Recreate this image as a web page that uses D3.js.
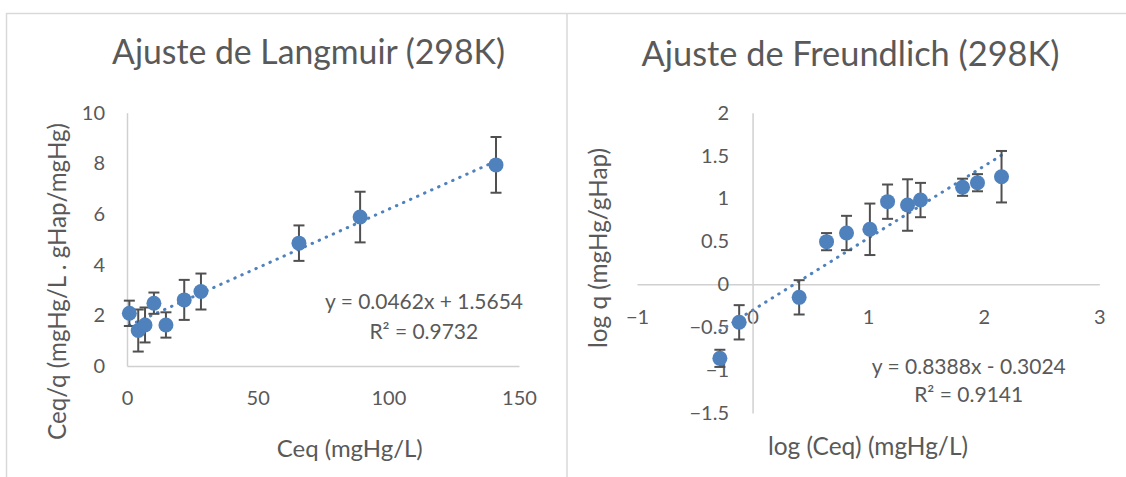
<!DOCTYPE html>
<html>
<head>
<meta charset="utf-8">
<script src="https://cdn.jsdelivr.net/npm/d3@7"></script>
<style>
  html, body { margin: 0; padding: 0; background: #fff; }
  svg { display: block; font-family: Lato, "Open Sans", sans-serif; }
  .axis path.domain { stroke: #d0d0d0; stroke-width: 1.5; }
  .axis text { fill: #595959; font-size: 20px; font-family: Lato, sans-serif; }
</style>
</head>
<body>
<svg id="chart" width="1126" height="477"></svg>
<script>
'use strict';

/* Langmuir fit: Ceq vs Ceq/q */
const langCeq = [0.9, 4.3, 6.9, 10.3, 14.9, 21.9, 28.3, 65.8, 89.2, 141.2];
const langY   = [2.08, 1.40, 1.62, 2.48, 1.62, 2.61, 2.94, 4.85, 5.88, 7.94];
const langErr = [0.50, 0.83, 0.69, 0.42, 0.50, 0.79, 0.71, 0.70, 1.00, 1.10];
const langFit = { slope: 0.0462, icept: 1.5654 };
const langXTicks = [0, 50, 100, 150];
const langYTicks = [0, 2, 4, 6, 8, 10];

/* Freundlich fit: log Ceq vs log q */
const frLogCeq = [-0.283, -0.116, 0.403, 0.640, 0.813, 1.015, 1.168, 1.341, 1.453, 1.817, 1.946, 2.154];
const frLogQ   = [-0.863, -0.443, -0.152, 0.497, 0.598, 0.641, 0.963, 0.924, 0.982, 1.131, 1.184, 1.254];
const frErr    = [0.10, 0.20, 0.20, 0.10, 0.20, 0.30, 0.20, 0.30, 0.20, 0.10, 0.10, 0.30];
const frFit = { slope: 0.8388, icept: -0.3024 };
const frXTicks = [-1, 0, 1, 2, 3];
const frYTicks = [-1.5, -1, -0.5, 0, 0.5, 1, 1.5, 2];

const BLUE = '#4f81bd', GREY = '#595959', ERR = '#505050';
const svg = d3.select('#chart');

/* panel frames */
svg.append('path').attr('fill', 'none').attr('stroke', '#d9d9d9').attr('stroke-width', 1.5)
  .attr('d', 'M6.5,477 V13.5 H1126 M567,13.5 V477');

// Calibri isn't installed: scale the font so the text spans the same width as in the original
function label(g, txt, x, y, width, opts = {}) {
  const t = g.append('text')
    .attr('transform', `translate(${x},${y})${opts.rotate ? ' rotate(-90)' : ''}`)
    .attr('dy', opts.dy || '0.35em').attr('text-anchor', 'middle').attr('fill', GREY)
    .style('font-size', '20px').text(txt);
  const w = t.node().getComputedTextLength();
  t.style('font-size', (20 * width / w).toFixed(2) + 'px');
  return t;
}

function drawPanel(cfg) {
  const x = d3.scaleLinear().domain(cfg.xDom).range(cfg.xRange);
  const y = d3.scaleLinear().domain(cfg.yDom).range(cfg.yRange);
  const g = svg.append('g');

  const ax0 = cfg.crossZero ? y(0) : cfg.yRange[0];
  const ay0 = cfg.crossZero ? x(0) : cfg.xRange[0];

  const xAxis = g.append('g').attr('class', 'axis').attr('transform', `translate(0,${ax0})`)
    .call(d3.axisBottom(x).tickValues(cfg.xTicks).tickSize(0).tickFormat(d3.format('')));
  xAxis.selectAll('text').attr('y', cfg.xLabelOff).attr('dy', '0.35em');

  const yAxis = g.append('g').attr('class', 'axis').attr('transform', `translate(${ay0},0)`)
    .call(d3.axisLeft(y).tickValues(cfg.yTicks).tickSize(0).tickFormat(d3.format('')));
  yAxis.selectAll('text').attr('x', cfg.yLabelX - ay0);

  /* trendline (dotted) over data range */
  const [x0, x1] = d3.extent(cfg.xs);
  g.append('line')
    .attr('x1', x(x0)).attr('y1', y(cfg.fit.slope * x0 + cfg.fit.icept))
    .attr('x2', x(x1)).attr('y2', y(cfg.fit.slope * x1 + cfg.fit.icept))
    .attr('stroke', BLUE).attr('stroke-width', 3)
    .attr('stroke-linecap', 'round').attr('stroke-dasharray', '0.5 7.2');

  const pts = cfg.xs.map((v, i) => ({ x: v, y: cfg.ys[i], e: cfg.err[i] }));

  /* error bars */
  const eb = g.append('g').attr('stroke', ERR).attr('stroke-width', 2);
  eb.selectAll('line.v').data(pts).join('line').attr('class', 'v')
    .attr('x1', d => x(d.x)).attr('x2', d => x(d.x))
    .attr('y1', d => y(d.y + d.e)).attr('y2', d => y(d.y - d.e));
  ['top', 'bot'].forEach(k => {
    eb.selectAll(`line.${k}`).data(pts).join('line').attr('class', k)
      .attr('x1', d => x(d.x) - 5.5).attr('x2', d => x(d.x) + 5.5)
      .attr('y1', d => y(k === 'top' ? d.y + d.e : d.y - d.e))
      .attr('y2', d => y(k === 'top' ? d.y + d.e : d.y - d.e));
  });

  g.append('g').selectAll('circle').data(pts).join('circle')
    .attr('cx', d => x(d.x)).attr('cy', d => y(d.y)).attr('r', 7.5)
    .attr('fill', BLUE);

  /* title, axis titles, equation */
  label(g, cfg.title[0], cfg.title[1], cfg.title[2], cfg.title[3], { dy: '0' });
  label(g, cfg.xTitle[0], cfg.xTitle[1], cfg.xTitle[2], cfg.xTitle[3]);
  label(g, cfg.yTitle[0], cfg.yTitle[1], cfg.yTitle[2], cfg.yTitle[3], { rotate: true });
  const eqSize = [];
  cfg.eq.forEach(([txt, ex, ey, ew]) => eqSize.push(label(g, txt, ex, ey, ew)));
  // keep both equation lines on the same size
  const fs = d3.mean(eqSize, t => parseFloat(t.style('font-size')));
  eqSize.forEach(t => t.style('font-size', fs + 'px'));
}

drawPanel({
  xDom: [0, 150], xRange: [127, 519],
  yDom: [0, 10], yRange: [366, 112.7],
  xTicks: langXTicks, yTicks: langYTicks,
  xLabelOff: 32, yLabelX: 105,
  xs: langCeq, ys: langY, err: langErr, fit: langFit,
  title: ['Ajuste de Langmuir (298K)', 308.5, 64, 393],
  xTitle: ['Ceq (mgHg/L)', 349.7, 449, 146],
  yTitle: ['Ceq/q (mgHg/L . gHap/mgHg)', 58, 281.5, 317],
  eq: [['y = 0.0462x + 1.5654', 424, 301.7, 198], ['R² = 0.9732', 423.8, 331.7, 109]]
});

drawPanel({
  crossZero: true,
  xDom: [-1, 3], xRange: [637, 1099.3],
  yDom: [-1.5, 2], yRange: [413, 112.7],
  xTicks: frXTicks, yTicks: frYTicks,
  xLabelOff: 32.7, yLabelX: 729,
  xs: frLogCeq, ys: frLogQ, err: frErr, fit: frFit,
  title: ['Ajuste de Freundlich (298K)', 850.5, 66, 418],
  xTitle: ['log (Ceq) (mgHg/L)', 868, 446, 200],
  yTitle: ['log q (mgHg/gHap)', 598, 248, 200],
  eq: [['y = 0.8388x - 0.3024', 968.8, 366.7, 194], ['R² = 0.9141', 968.7, 395, 109]]
});
</script>
</body>
</html>
